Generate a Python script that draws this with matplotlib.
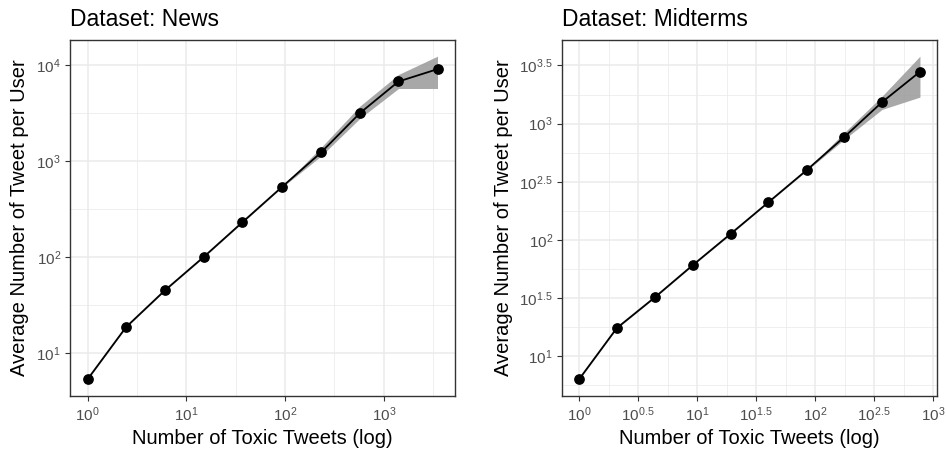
import numpy as np
import matplotlib.pyplot as plt

plt.rcParams['font.family'] = ['Liberation Sans', 'DejaVu Sans']
plt.rcParams['mathtext.fontset'] = 'custom'
plt.rcParams['mathtext.rm'] = 'Liberation Sans'
plt.rcParams['mathtext.default'] = 'regular'

# News dataset
news_x = [1, 2.46, 6.07, 15.1, 37.1, 92.9, 232, 572, 1409, 3499]
news_y = [5.36, 18.8, 45.3, 101.6, 233, 541, 1241, 3184, 6810, 9160]
news_lo = [5.3, 18.6, 44.8, 100.5, 230, 534, 1140, 2805, 5754, 5760]
news_hi = [5.42, 19.0, 45.8, 102.7, 236, 548, 1400, 3770, 8054, 12500]

# Midterms dataset
mid_x = [1, 2.09, 4.38, 9.18, 19.2, 40.2, 84.7, 176, 369, 773]
mid_y = [6.34, 17.5, 32.1, 60.7, 112.7, 211, 398, 765, 1530, 2793]
mid_lo = [6.28, 17.3, 31.8, 60.1, 111.6, 209, 393, 730, 1325, 1690]
mid_hi = [6.40, 17.7, 32.4, 61.3, 113.8, 213, 403, 834, 1722, 3800]

news_xt = [0, 1, 2, 3]
news_yt = [1, 2, 3, 4]
mid_xt = [0, 0.5, 1, 1.5, 2, 2.5, 3]
mid_yt = [1, 1.5, 2, 2.5, 3, 3.5]

GRID = '#EBEBEB'


def lab(e):
    s = ('%g' % e)
    return r'$10^{%s}$' % s


def panel(ax, x, y, lo, hi, xt, yt, title):
    ax.set_xscale('log')
    ax.set_yscale('log')

    step_x = xt[1] - xt[0]
    step_y = yt[1] - yt[0]
    ax.set_xticks([10 ** t for t in xt])
    ax.set_xticklabels([lab(t) for t in xt])
    ax.set_yticks([10 ** t for t in yt])
    ax.set_yticklabels([lab(t) for t in yt])
    xm = np.arange(xt[0] - step_x / 2, xt[-1] + step_x, step_x)
    ym = np.arange(yt[0] - step_y / 2, yt[-1] + step_y, step_y)
    ax.set_xticks([10 ** t for t in xm], minor=True)
    ax.set_yticks([10 ** t for t in ym], minor=True)
    ax.tick_params(which='minor', length=0)
    ax.tick_params(which='major', length=3.5, width=0.8, color='#333333',
                   labelcolor='#4D4D4D', labelsize=11, pad=3)

    ax.grid(which='major', color=GRID, lw=1.1)
    ax.grid(which='minor', color=GRID, lw=0.55)
    ax.set_axisbelow(True)
    for s in ax.spines.values():
        s.set_color('#333333')
        s.set_linewidth(1.0)

    ax.fill_between(x, lo, hi, color='#999999', alpha=0.85, lw=0, zorder=2)
    ax.plot(x, y, color='black', lw=1.3, zorder=3)
    ax.scatter(x, y, s=45, color='black', zorder=4)

    # ggplot-style 5% expansion in log space
    lx = np.log10(x)
    ly = np.log10(np.concatenate([lo, hi]))
    dx = (lx.max() - lx.min()) * 0.05
    dy = (ly.max() - ly.min()) * 0.05
    ax.set_xlim(10 ** (lx.min() - dx), 10 ** (lx.max() + dx))
    ax.set_ylim(10 ** (ly.min() - dy), 10 ** (ly.max() + dy))

    ax.set_xlabel('Number of Toxic Tweets (log)', fontsize=14.5, labelpad=4)
    ax.set_ylabel('Average Number of Tweet per User', fontsize=14.5, labelpad=5)
    ax.set_title(title, loc='left', fontsize=16.5, pad=10)


fig = plt.figure(figsize=(9.46, 4.53), dpi=100)
ax1 = fig.add_axes([70 / 946, 57 / 453, 385 / 946, 356 / 453])
ax2 = fig.add_axes([562 / 946, 57 / 453, 375 / 946, 356 / 453])

panel(ax1, news_x, news_y, news_lo, news_hi, news_xt, news_yt, 'Dataset: News')
panel(ax2, mid_x, mid_y, mid_lo, mid_hi, mid_xt, mid_yt, 'Dataset: Midterms')

fig.savefig('out.png', dpi=100)
